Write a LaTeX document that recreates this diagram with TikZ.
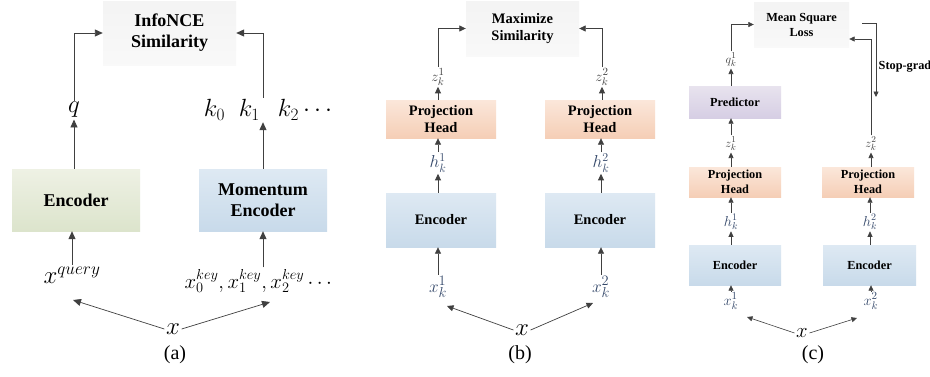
\documentclass[tikz,border=0pt]{standalone}
\usepackage{fontspec}
\setmainfont{Liberation Serif}
\usetikzlibrary{arrows.meta}
\definecolor{arrcol}{HTML}{404040}
\definecolor{labblue}{HTML}{34486A}
\begin{document}
\begin{tikzpicture}[x=1pt,y=-1pt,
  box/.style={inner sep=0pt, align=center, text=black},
  graybox/.style={box, top color=gray!9, bottom color=gray!5},
  greenbox/.style={box, top color={rgb,255:red,238;green,241;blue,228}, bottom color={rgb,255:red,220;green,228;blue,204}},
  bluebox/.style={box, top color={rgb,255:red,222;green,233;blue,243}, bottom color={rgb,255:red,200;green,218;blue,234}},
  orangebox/.style={box, top color={rgb,255:red,251;green,231;blue,218}, bottom color={rgb,255:red,245;green,206;blue,182}},
  purplebox/.style={box, top color={rgb,255:red,232;green,227;blue,238}, bottom color={rgb,255:red,214;green,206;blue,228}},
  fa/.style={font=\bfseries\fontsize{18}{21}\selectfont},
  fb/.style={font=\bfseries\fontsize{14.5}{17}\selectfont},
  fc/.style={font=\bfseries\fontsize{12.3}{15}\selectfont},
  lab/.style={inner sep=1.5pt},
  arrA/.style={draw=arrcol, line width=0.9pt, -{Triangle[length=8pt,width=7pt]}},
  arrB/.style={draw=arrcol, line width=0.8pt, -{Triangle[length=6.5pt,width=6pt]}},
  arrC/.style={draw=arrcol, line width=0.7pt, -{Triangle[length=5.5pt,width=5pt]}},
  captext/.style={font=\fontsize{20}{22}\selectfont}
]
\useasboundingbox[fill=white] (0,0) rectangle (930,376);

% ---------------- (a)
\node[graybox, fa, minimum width=133pt, minimum height=64pt] (simA) at (169.5,33) {InfoNCE\\Similarity};
\node[greenbox, fa, minimum width=128pt, minimum height=62pt] (encA) at (76,200) {Encoder};
\node[bluebox, fa, minimum width=128pt, minimum height=62pt] (mom) at (263,200) {Momentum\\Encoder};
\node[lab, font=\fontsize{29}{31}\selectfont] (q) at (74,110) {$q$};
\node[lab, font=\fontsize{26}{28}\selectfont] (kk) at (268,110) {$k_0\;\;k_1\;\;\,k_2\cdots$};
\node[lab, font=\fontsize{23}{25}\selectfont] (xq) at (72,275) {$x^{query}$};
\node[lab, font=\fontsize{21.5}{24}\selectfont, anchor=west] (xkey) at (183,281) {$x_0^{key},x_1^{key},x_2^{key}\cdots$};
\node[lab, font=\fontsize{28}{30}\selectfont] (xa) at (173,329) {$x$};
\node[captext] (capa) at (175,355) {(a)};
\coordinate (xqend) at (73,300);
\coordinate (xkend) at (270,302);

\draw[arrA] (q.north) |- (simA.west);
\draw[arrA] (mom.north |- kk.north) |- (simA.east);
\draw[arrA] (q.south |- encA.north) -- (q.south);
\draw[arrA] (mom.north) -- (mom.north |- kk.south);
\draw[arrA] (xq.north) -- (xq.north |- encA.south);
\draw[arrA] (mom.south |- xkey.north) -- (mom.south);
\draw[arrA, line width=0.7pt] (xa.west) -- (xqend);
\draw[arrA, line width=0.7pt] (xa.east) -- (xkend);

% ---------------- (b)
\node[graybox, fb, minimum width=113pt, minimum height=55pt] (simB) at (522.5,28.5) {Maximize\\Similarity};
\node[orangebox, fb, minimum width=110pt, minimum height=38pt] (projB1) at (441,119) {Projection\\Head};
\node[orangebox, fb, minimum width=110pt, minimum height=38pt] (projB2) at (600,119) {Projection\\Head};
\node[bluebox, fb, minimum width=110pt, minimum height=54pt] (encB1) at (441,220) {Encoder};
\node[bluebox, fb, minimum width=110pt, minimum height=54pt] (encB2) at (600,220) {Encoder};
\node[lab, text=arrcol, font=\fontsize{15}{17}\selectfont] (zB1) at (438,77) {$z_k^1$};
\node[lab, text=arrcol, font=\fontsize{15}{17}\selectfont] (zB2) at (602,77) {$z_k^2$};
\node[lab, text=labblue, font=\fontsize{16.5}{18}\selectfont] (hB1) at (438,163) {$h_k^1$};
\node[lab, text=labblue, font=\fontsize{16.5}{18}\selectfont] (hB2) at (601,163) {$h_k^2$};
\node[lab, text=labblue, font=\fontsize{19}{21}\selectfont] (xB1) at (438,287) {$x_k^1$};
\node[lab, text=labblue, font=\fontsize{19}{21}\selectfont] (xB2) at (601,287) {$x_k^2$};
\node[lab, font=\fontsize{24}{26}\selectfont] (xb) at (522,330) {$x$};
\node[captext] (capb) at (520,355) {(b)};
\coordinate (xB1end) at (447,306);
\coordinate (xB2end) at (593,303);

\draw[arrB] (zB1.north) |- (simB.west);
\draw[arrB] (zB2.north) |- (simB.east);
\draw[arrB] (zB1.south |- projB1.north) -- (zB1.south);
\draw[arrB] (zB2.south |- projB2.north) -- (zB2.south);
\draw[arrB] (hB1.north) -- (hB1.north |- projB1.south);
\draw[arrB] (hB2.north) -- (hB2.north |- projB2.south);
\draw[arrB] (hB1.south |- encB1.north) -- (hB1.south);
\draw[arrB] (hB2.south |- encB2.north) -- (hB2.south);
\draw[arrB] (xB1.north) -- (xB1.north |- encB1.south);
\draw[arrB] (xB2.north) -- (xB2.north |- encB2.south);
\draw[arrB, line width=0.7pt] (xb.west) -- (xB1end);
\draw[arrB, line width=0.7pt] (xb.east) -- (xB2end);

% ---------------- (c)
\node[graybox, fc, minimum width=95pt, minimum height=45pt] (simC) at (801.5,24.5) {Mean Square\\Loss};
\node[purplebox, fc, minimum width=92pt, minimum height=32pt] (pred) at (735,102) {Predictor};
\node[orangebox, fc, minimum width=92pt, minimum height=30pt] (projC1) at (735,182) {Projection\\Head};
\node[orangebox, fc, minimum width=92pt, minimum height=30pt] (projC2) at (868,182) {Projection\\Head};
\node[bluebox, fc, minimum width=92pt, minimum height=40pt] (encC1) at (735,265) {Encoder};
\node[bluebox, fc, minimum width=93pt, minimum height=40pt] (encC2) at (869.5,265) {Encoder};
\node[lab, text=arrcol, font=\fontsize{13}{15}\selectfont] (qC1) at (731,60) {$q_k^1$};
\node[lab, text=arrcol, font=\fontsize{13}{15}\selectfont] (zC1) at (731,144) {$z_k^1$};
\node[lab, text=arrcol, font=\fontsize{13}{15}\selectfont] (zC2) at (871,144) {$z_k^2$};
\node[lab, text=labblue, font=\fontsize{14}{16}\selectfont] (hC1) at (731,222) {$h_k^1$};
\node[lab, text=labblue, font=\fontsize{14}{16}\selectfont] (hC2) at (870,222) {$h_k^2$};
\node[lab, text=labblue, font=\fontsize{15}{17}\selectfont] (xC1) at (731,301) {$x_k^1$};
\node[lab, text=labblue, font=\fontsize{15}{17}\selectfont] (xC2) at (871,301) {$x_k^2$};
\node[lab, font=\fontsize{20}{22}\selectfont] (xc) at (802,333) {$x$};
\node[captext] (capc) at (813,355) {(c)};
\node[fc, anchor=west, inner sep=0pt] (sg) at (878.5,67) {Stop-grad};
\coordinate (sgA) at (862,23);
\coordinate (sgB) at (876,23);
\coordinate (sgC) at (876,97);
\coordinate (xC1end) at (747,317);
\coordinate (xC2end) at (857,318);

\draw[arrC] (qC1.north) |- (simC.west);
\draw[arrC] (zC2.north) |- ([yshift=-14.5pt]simC.east);
\draw[arrC] (sgA) -- (sgB) -- (sgC);
\draw[arrC] (qC1.south |- pred.north) -- (qC1.south);
\draw[arrC] (zC1.north) -- (zC1.north |- pred.south);
\draw[arrC] (zC1.south |- projC1.north) -- (zC1.south);
\draw[arrC] (zC2.south |- projC2.north) -- (zC2.south);
\draw[arrC] (hC1.north) -- (hC1.north |- projC1.south);
\draw[arrC] (hC2.north) -- (hC2.north |- projC2.south);
\draw[arrC] (hC1.south |- encC1.north) -- (hC1.south);
\draw[arrC] (hC2.south |- encC2.north) -- (hC2.south);
\draw[arrC] (xC1.north) -- (xC1.north |- encC1.south);
\draw[arrC] (xC2.north) -- (xC2.north |- encC2.south);
\draw[arrC, line width=0.6pt] (xc.west) -- (xC1end);
\draw[arrC, line width=0.6pt] (xc.east) -- (xC2end);
\end{tikzpicture}
\end{document}
